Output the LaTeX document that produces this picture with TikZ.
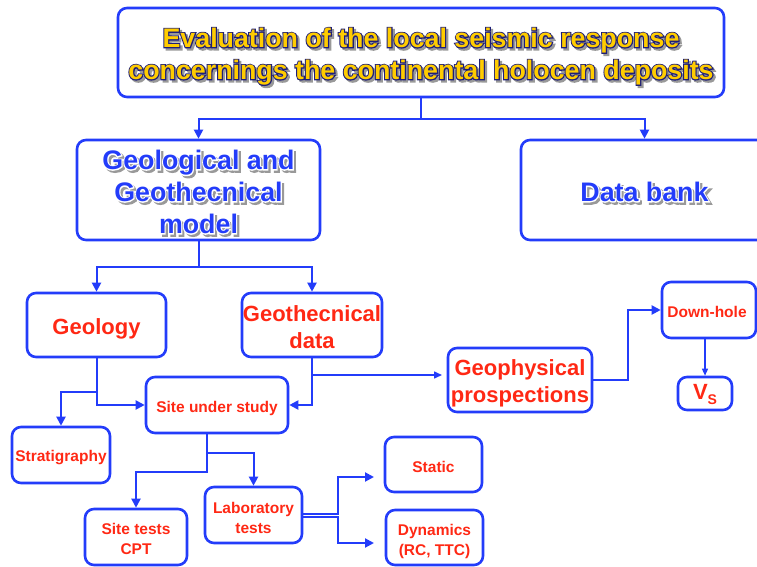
\documentclass[tikz,border=0pt]{standalone}
\usepackage{fontspec}
\setmainfont{Liberation Sans}
\newfontface\embold{Liberation Sans Bold}[FakeBold=8]
\usetikzlibrary{arrows.meta}
\definecolor{bblue}{RGB}{35,60,250}
\definecolor{tred}{RGB}{255,40,20}
\definecolor{tyel}{RGB}{255,204,0}
\definecolor{tnavy}{RGB}{30,30,120}
\newcommand{\fancytext}[3]{\leavevmode\rlap{\hspace{2.2pt}\raisebox{-2.2pt}{\embold\textcolor{black!40}{#3}}}\rlap{\embold\textcolor{#2}{#3}}\textcolor{#1}{#3}}
\begin{document}
\begin{tikzpicture}[x=1pt,y=-1pt,
  box/.style={draw=bblue, line width=2.6pt, rounded corners=9pt, inner sep=0pt},
  bigtxt/.style={align=center, inner sep=0pt, font=\bfseries\fontsize{26.8}{32}\selectfont},
  redtxt/.style={align=center, inner sep=0pt, text=tred, font=\bfseries\fontsize{22}{27}\selectfont},
  smalltxt/.style={align=center, inner sep=0pt, text=tred, font=\bfseries\fontsize{15.5}{19.5}\selectfont},
  conn/.style={draw=bblue, line width=2pt},
  arr/.style={conn, -{Triangle[length=9pt,width=9pt]}},
]
\useasboundingbox (0,0) rectangle (757,567);
\clip (0,0) rectangle (757,567);

% boxes
\node[box, minimum width=606pt, minimum height=89pt] (title) at (421,52.5) {};
\node[box, minimum width=243pt, minimum height=100pt] (geo) at (198.5,190) {};
\node[box, minimum width=247pt, minimum height=100pt] (bank) at (644.5,190) {};
\node[box, minimum width=139pt, minimum height=64pt] (geology) at (96.5,325) {};
\node[box, minimum width=140pt, minimum height=64pt] (geotech) at (312,325) {};
\node[box, minimum width=142pt, minimum height=56pt] (site) at (217,405) {};
\node[box, minimum width=144pt, minimum height=64pt] (geophys) at (520,380) {};
\node[box, minimum width=94pt, minimum height=56pt] (downhole) at (709,310) {};
\node[box, minimum width=54pt, minimum height=33pt] (vs) at (705,393.5) {};
\node[box, minimum width=98pt, minimum height=56pt] (strat) at (61,455) {};
\node[box, minimum width=102pt, minimum height=56pt] (sitetests) at (136,537) {};
\node[box, minimum width=97pt, minimum height=56pt] (lab) at (253.5,515) {};
\node[box, minimum width=97pt, minimum height=55pt] (static) at (433.5,464.5) {};
\node[box, minimum width=97pt, minimum height=55pt] (dyn) at (434.5,537.5) {};

% texts
\node[bigtxt] (titleT) at ([yshift=-5pt]title.center)
  {\fancytext{tyel}{tnavy}{Evaluation of the local seismic response}\\
   \fancytext{tyel}{tnavy}{concernings the continental holocen deposits}};
\node[bigtxt] (geoT) at ([yshift=-3pt]geo.center)
  {\fancytext{bblue}{white}{Geological and}\\
   \fancytext{bblue}{white}{Geothecnical}\\
   \fancytext{bblue}{white}{model}};
\node[bigtxt] (bankT) at ([yshift=-3pt]bank.center) {\fancytext{bblue}{white}{Data bank}};
\node[redtxt] (geologyT) at ([yshift=-4pt]geology.center) {Geology};
\node[redtxt] (geotechT) at ([yshift=-2pt]geotech.center) {Geothecnical\\data};
\node[smalltxt] (siteT) at ([yshift=-3pt]site.center) {Site under study};
\node[redtxt] (geophysT) at ([yshift=-3pt]geophys.center) {Geophysical\\prospections};
\node[smalltxt] (downholeT) at ([yshift=-2pt,xshift=-2pt]downhole.center) {Down-hole};
\node[text=tred, inner sep=0pt, font=\bfseries\fontsize{22}{26}\selectfont] (vsT) at ([yshift=-1pt]vs.center)
  {V\raisebox{-5pt}{\fontsize{14}{14}\selectfont S}};
\node[smalltxt] (stratT) at ([yshift=-3pt]strat.center) {Stratigraphy};
\node[smalltxt] (sitetestsT) at ([yshift=-2pt]sitetests.center) {Site tests\\CPT};
\node[smalltxt] (labT) at ([yshift=-3pt]lab.center) {Laboratory\\tests};
\node[smalltxt] (staticT) at ([yshift=-2pt]static.center) {Static};
\node[smalltxt] (dynT) at ([yshift=-4pt]dyn.center) {Dynamics\\(RC, TTC)};

% helper coordinates
\coordinate (g1) at (96.5,392);
\coordinate (gt1) at (312,375);
\coordinate (gpIn) at (442,375);
\coordinate (s1) at (207,453);
\coordinate (s2) at (207,472);
\coordinate (l1) at (338,477);
\coordinate (l2) at (338,543);
\coordinate (stIn) at (374,477);
\coordinate (dyIn) at (374,543);

% connectors
\draw[arr] (title.south) -- ++(0,21) -| (geo.north);
\draw[arr] (title.south) -- ++(0,21) -| (bank.north);
\draw[arr] (geo.south) -- ++(0,26) -| (geology.north);
\draw[arr] (geo.south) -- ++(0,26) -| (geotech.north);
\draw[arr] (geology.south) |- (site.west);
\draw[arr] (g1) -| (strat.north);
\draw[arr] (geotech.south) |- (site.east);
\draw[arr, line width=1.5pt, -{Triangle[length=8pt,width=7pt]}] (gt1) -- (gpIn);
\draw[arr] (geophys.east) -- ++(35,0) |- (downhole.west);
\draw[arr, line width=1.3pt, -{Triangle[length=7pt,width=6pt]}] (vs.north |- downhole.south) -- (vs.north);
\draw[arr] ([xshift=-10pt]site.south) -- (s1) -| (lab.north);
\draw[arr] (s1) -- (s2) -| (sitetests.north);
\draw[arr] ([yshift=1.5pt]lab.east) -| (l1) -- (stIn);
\draw[arr] ([yshift=-1.5pt]lab.east) -| (l2) -- (dyIn);
\end{tikzpicture}
\end{document}
